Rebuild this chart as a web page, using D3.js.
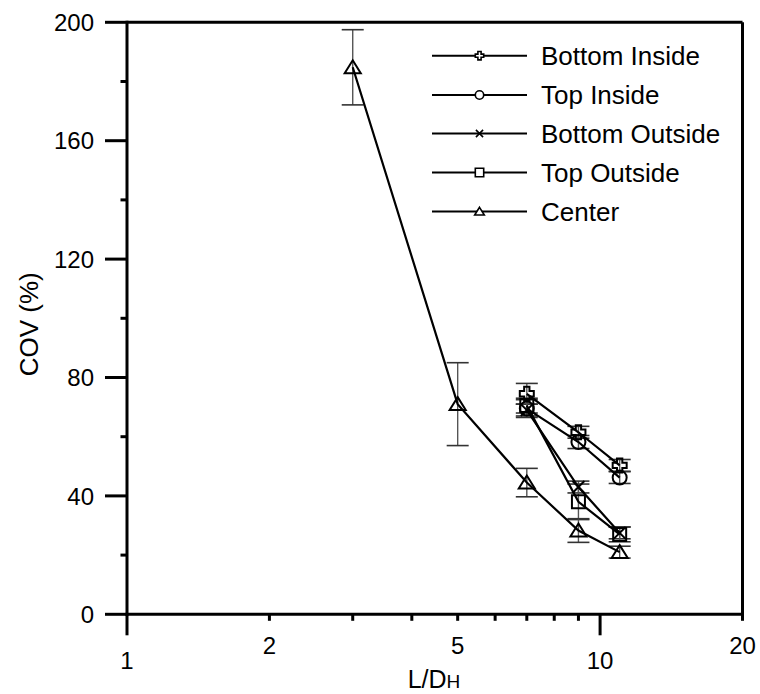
<!DOCTYPE html>
<html><head><meta charset="utf-8">
<script src="https://cdn.jsdelivr.net/npm/d3@7"></script>
<style>body{margin:0;background:#fff}svg{display:block}text{font-family:"Liberation Sans",Arial,sans-serif;fill:#000}</style>
</head><body>
<svg id="c" width="760" height="694"></svg>
<script>
// ---- data ----
const xCluster = [7, 9, 11];
const xCenter = [3, 5, 7, 9, 11];
const seriesNames = ["Bottom Inside", "Top Inside", "Bottom Outside", "Top Outside", "Center"];
const bottomInside = [74.5, 61.5, 50.3];
const bottomInsideErr = [3.5, 2, 2];
const topInside = [69.5, 58.2, 46.2];
const topInsideErr = [3, 2.2, 2];
const bottomOutside = [69, 43, 27.5];
const bottomOutsideErr = [2, 2, 2];
const topOutside = [70.5, 38, 27];
const topOutsideErr = [2.5, 6, 2.5];
const center = [184.8, 71, 44.5, 28.3, 21];
const centerErr = [12.7, 14, 4.8, 4, 2];
const xTickMajor = [1, 10];
const xTickMinor = [2, 3, 4, 5, 6, 7, 8, 9, 20];
const xTickLabelsLow = [1, 10];
const xTickLabelsHigh = [2, 5, 20];
const yTickMajor = [0, 40, 80, 120, 160, 200];
const yTickMinor = [20, 60, 100, 140, 180];

const series = [
  {name: seriesNames[0], xs: xCluster, ys: bottomInside, err: bottomInsideErr, sym: "plus"},
  {name: seriesNames[1], xs: xCluster, ys: topInside, err: topInsideErr, sym: "circle"},
  {name: seriesNames[2], xs: xCluster, ys: bottomOutside, err: bottomOutsideErr, sym: "x"},
  {name: seriesNames[3], xs: xCluster, ys: topOutside, err: topOutsideErr, sym: "square"},
  {name: seriesNames[4], xs: xCenter, ys: center, err: centerErr, sym: "triangle"}
];

const svg = d3.select("#c");
const L = 127, R = 742.5, T = 22.3, B = 614.3;
const x = d3.scaleLog().domain([1, 20]).range([L, R]);
const y = d3.scaleLinear().domain([0, 200]).range([B, T]);

function symPath(sym, s) {
  if (sym === "plus") {
    const a = s * 0.38;
    return `M${-a},${-s}H${a}V${-a}H${s}V${a}H${a}V${s}H${-a}V${a}H${-s}V${-a}H${-a}Z`;
  }
  if (sym === "circle") { const p = d3.path(); p.arc(0, 0, s, 0, Math.PI * 2); p.closePath(); return p.toString(); }
  if (sym === "x") { const k = s * 0.85; return `M${-k},${-k}L${k},${k}M${-k},${k}L${k},${-k}`; }
  if (sym === "square") return `M${-s},${-s}H${s}V${s}H${-s}Z`;
  if (sym === "triangle") { const w = s * 1.15, h = s * 1.0; return `M0,${-h}L${w},${h * 0.85}H${-w}Z`; }
}

// ---- error bars ----
const eg = svg.append("g");
series.forEach(sr => {
  sr.xs.forEach((xv, i) => {
    const cx = x(xv), y1 = y(sr.ys[i] + sr.err[i]), y2 = y(sr.ys[i] - sr.err[i]);
    eg.append("line").attr("x1", cx).attr("x2", cx).attr("y1", y1).attr("y2", y2).attr("stroke", "#555").attr("stroke-width", 1.4);
    [y1, y2].forEach(yy => eg.append("line").attr("x1", cx - 11).attr("x2", cx + 11).attr("y1", yy).attr("y2", yy).attr("stroke", "#333").attr("stroke-width", 1.6));
  });
});

// ---- lines ----
const line = d3.line().x(d => x(d[0])).y(d => y(d[1]));
series.forEach(sr => {
  svg.append("path").attr("d", line(sr.xs.map((xv, i) => [xv, sr.ys[i]])))
    .attr("fill", "none").attr("stroke", "#000").attr("stroke-width", 2.2);
});

// ---- markers ----
series.forEach(sr => {
  sr.xs.forEach((xv, i) => {
    svg.append("path").attr("d", symPath(sr.sym, sr.sym === "square" ? 6.5 : 7))
      .attr("transform", `translate(${x(xv)},${y(sr.ys[i])})`)
      .attr("fill", "none").attr("stroke", "#000").attr("stroke-width", 2);
  });
});

// ---- axes ----
const ax = svg.append("g").attr("stroke", "#000").attr("stroke-width", 3).attr("fill", "none");
ax.append("line").attr("x1", L).attr("x2", R).attr("y1", T).attr("y2", T);
ax.append("line").attr("x1", R).attr("x2", R).attr("y1", T).attr("y2", B);
ax.append("line").attr("x1", L).attr("x2", L).attr("y1", T - 1.5).attr("y2", B + 1.5);
ax.append("line").attr("x1", L - 1.5).attr("x2", R + 1.5).attr("y1", B).attr("y2", B);
xTickMajor.forEach(v => ax.append("line").attr("x1", x(v)).attr("x2", x(v)).attr("y1", B).attr("y2", B + 21));
xTickMinor.forEach(v => ax.append("line").attr("x1", x(v)).attr("x2", x(v)).attr("y1", B).attr("y2", B + 6.5));
yTickMajor.forEach(v => ax.append("line").attr("x1", L).attr("x2", L - 22).attr("y1", y(v)).attr("y2", y(v)));
yTickMinor.forEach(v => ax.append("line").attr("x1", L).attr("x2", L - 6.5).attr("y1", y(v)).attr("y2", y(v)));

const fs = 24;
yTickMajor.forEach(v => svg.append("text").attr("x", 94).attr("y", y(v)).attr("dy", "0.36em")
  .attr("text-anchor", "end").attr("font-size", fs).text(v));
xTickLabelsLow.forEach(v => svg.append("text").attr("x", x(v)).attr("y", 660).attr("dy", "0.36em")
  .attr("text-anchor", "middle").attr("font-size", fs).text(v));
xTickLabelsHigh.forEach(v => svg.append("text").attr("x", x(v)).attr("y", 645).attr("dy", "0.36em")
  .attr("text-anchor", "middle").attr("font-size", fs).text(v));

// axis titles
svg.append("text").attr("transform", `translate(38,${(T + B) / 2 + 6}) rotate(-90)`)
  .attr("text-anchor", "middle").attr("font-size", 26).text("COV (%)");
const xt = svg.append("text").attr("x", 434).attr("y", 688).attr("text-anchor", "middle").attr("font-size", 25);
xt.append("tspan").text("L/D");
xt.append("tspan").attr("font-size", 19).text("H");

// ---- legend ----
const legRows = [55.7, 95, 133.5, 172.5, 211.5];
series.forEach((sr, i) => {
  const ly = legRows[i];
  svg.append("line").attr("x1", 432).attr("x2", 527).attr("y1", ly).attr("y2", ly).attr("stroke", "#000").attr("stroke-width", 2);
  svg.append("path").attr("d", symPath(sr.sym, 4.2)).attr("transform", `translate(479.5,${ly})`)
    .attr("fill", "#fff").attr("stroke", "#000").attr("stroke-width", 1.6);
  svg.append("text").attr("x", 541).attr("y", ly).attr("dy", "0.36em").attr("font-size", 26).text(sr.name);
});
</script>
</body></html>
